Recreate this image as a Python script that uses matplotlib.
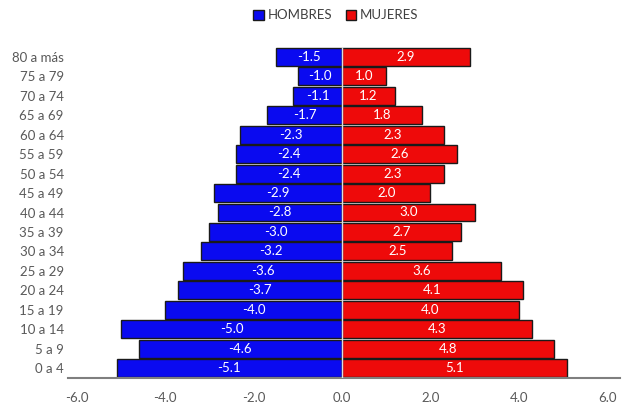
import numpy as np
import matplotlib
matplotlib.use('Agg')
import matplotlib.pyplot as plt

plt.rcParams['font.family'] = ['Lato', 'DejaVu Sans']

# age groups, bottom to top
grupos = ['0 a 4', '5 a 9', '10 a 14', '15 a 19', '20 a 24', '25 a 29', '30 a 34',
          '35 a 39', '40 a 44', '45 a 49', '50 a 54', '55 a 59', '60 a 64',
          '65 a 69', '70 a 74', '75 a 79', '80 a más']
hombres = [-5.1, -4.6, -5.0, -4.0, -3.7, -3.6, -3.2, -3.0, -2.8, -2.9, -2.4, -2.4,
           -2.3, -1.7, -1.1, -1.0, -1.5]
mujeres = [5.1, 4.8, 4.3, 4.0, 4.1, 3.6, 2.5, 2.7, 3.0, 2.0, 2.3, 2.6, 2.3, 1.8,
           1.2, 1.0, 2.9]
ticks_x = [-6.0, -4.0, -2.0, 0.0, 2.0, 4.0, 6.0]

fig = plt.figure(figsize=(6.28, 4.03), dpi=100)
ax = fig.add_axes([68/628, 25/403, 552/628, 331/403])

y = np.arange(len(grupos))
b1 = ax.barh(y, hombres, height=0.92, color='#0A0AF0', edgecolor='#1a1a1a',
             linewidth=1.0, label='HOMBRES')
b2 = ax.barh(y, mujeres, height=0.92, color='#EE0A0A', edgecolor='#1a1a1a',
             linewidth=1.0, label='MUJERES')
ax.axvline(0, color='#dddddd', lw=1.0, zorder=3)

for i in range(len(grupos)):
    ax.text(hombres[i] / 2, y[i], f'{hombres[i]:.1f}', color='white',
            ha='center', va='center', fontsize=9.5)
    ax.text(mujeres[i] / 2, y[i], f'{mujeres[i]:.1f}', color='white',
            ha='center', va='center', fontsize=9.5)

ax.set_ylim(-0.5, len(grupos) - 0.5)
ax.set_xlim(-6.2, 6.29)
ax.set_yticks(y)
ax.set_yticklabels(grupos)
ax.set_xticks(ticks_x)
ax.set_xticklabels([f'{t:.1f}' for t in ticks_x])
ax.tick_params(axis='both', length=0, colors='#595959', labelsize=9.5)
ax.tick_params(axis='x', pad=10)
ax.tick_params(axis='y', pad=3)
for s in ['top', 'right', 'left']:
    ax.spines[s].set_visible(False)
ax.spines['bottom'].set_color('#7f7f7f')
ax.spines['bottom'].set_linewidth(1.5)

fig.legend(handles=[b1, b2], loc='center', bbox_to_anchor=(0.535, 0.962), ncol=2,
           frameon=False, fontsize=9.5, handlelength=0.8, handleheight=0.8,
           handletextpad=0.3, columnspacing=1.0, labelcolor='#404040')

fig.savefig('out.png', dpi=100)
